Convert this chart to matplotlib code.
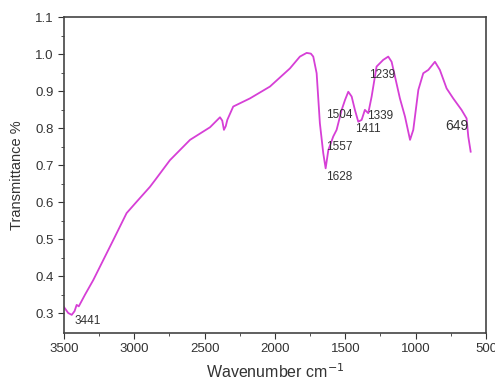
import numpy as np
import matplotlib
matplotlib.use("Agg")
import matplotlib.pyplot as plt

plt.rcParams["font.family"] = ["Liberation Sans", "DejaVu Sans"]

# FTIR spectrum
wavenumber = [3500, 3470, 3445, 3425, 3410, 3395, 3350, 3292, 3221, 3150, 3055,
              2983, 2889, 2853, 2747, 2604, 2462, 2391, 2375, 2363, 2350, 2339,
              2297, 2178, 2036, 1894, 1823, 1775, 1745, 1728, 1704, 1681, 1657,
              1640, 1621, 1586, 1562, 1526, 1502, 1479, 1455, 1432, 1408, 1384,
              1361, 1337, 1313, 1278, 1231, 1195, 1171, 1147, 1112, 1076, 1040,
              1017, 981, 946, 910, 863, 828, 780, 733, 674, 638, 626, 609]
transmittance = [0.316, 0.300, 0.295, 0.305, 0.322, 0.318, 0.350, 0.389, 0.443,
                 0.497, 0.570, 0.601, 0.641, 0.659, 0.713, 0.768, 0.802, 0.829,
                 0.820, 0.795, 0.805, 0.822, 0.858, 0.880, 0.912, 0.961, 0.993,
                 1.003, 1.001, 0.993, 0.948, 0.813, 0.732, 0.691, 0.740, 0.777,
                 0.795, 0.849, 0.876, 0.898, 0.885, 0.849, 0.817, 0.822, 0.849,
                 0.840, 0.885, 0.966, 0.984, 0.993, 0.979, 0.939, 0.880, 0.831,
                 0.768, 0.795, 0.903, 0.948, 0.957, 0.979, 0.957, 0.907, 0.880,
                 0.849, 0.826, 0.777, 0.736]

peak_labels = ["3441", "1628", "1557", "1504", "1411", "1339", "1239", "649"]
label_x = [3334, 1545, 1545, 1545, 1337, 1254, 1242, 708]
label_y = [0.278, 0.668, 0.749, 0.835, 0.797, 0.832, 0.943, 0.806]

fig = plt.figure(figsize=(4.95, 3.83), dpi=100)
ax = fig.add_axes([64 / 495, 50 / 383, 422 / 495, 316 / 383])

ax.plot(wavenumber, transmittance, color="#d63fd6", lw=1.3)

for lab, x, y in zip(peak_labels, label_x, label_y):
    size = 10 if lab == "649" else 8.5
    ax.text(x, y, lab, fontsize=size, ha="center", va="center", color="#333333")

ax.set_xlim(3500, 500)
ax.set_ylim(0.246, 1.1)
ax.set_xticks(np.arange(3500, 499, -500))
ax.set_xticks(np.arange(3250, 500, -500), minor=True)
ax.set_yticks(np.arange(0.3, 1.11, 0.1))
ax.set_yticks(np.arange(0.35, 1.1, 0.1), minor=True)
ax.set_yticklabels([f"{v:.1f}" for v in np.arange(0.3, 1.11, 0.1)])
ax.tick_params(axis="both", which="major", direction="out", length=4,
               labelsize=9.5, colors="#333333", labelcolor="#333333")
ax.tick_params(axis="both", which="minor", direction="out", length=2.5,
               colors="#333333")
for sp in ax.spines.values():
    sp.set_color("#444444")
    sp.set_linewidth(1.2)

ax.set_xlabel("Wavenumber cm$^{-1}$", fontsize=11.5, color="#333333", labelpad=5)
ax.set_ylabel("Transmittance %", fontsize=10.5, color="#333333", labelpad=8)

fig.savefig("out.png", dpi=100)
